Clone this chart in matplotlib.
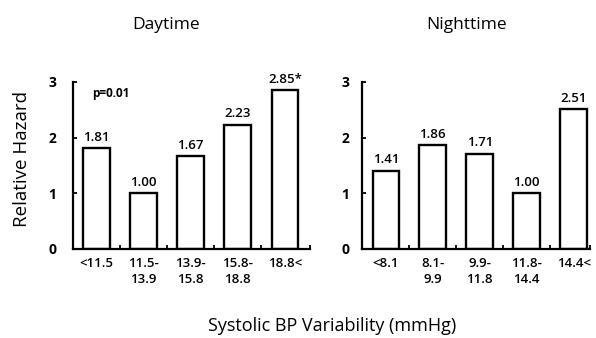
import matplotlib
matplotlib.use('Agg')
import matplotlib.pyplot as plt

DAY_LABELS = ['<11.5', '11.5-\n13.9', '13.9-\n15.8', '15.8-\n18.8', '18.8<']
DAY_VALUES = [1.81, 1.00, 1.67, 2.23, 2.85]
DAY_TEXT = ['1.81', '1.00', '1.67', '2.23', '2.85*']

NIGHT_LABELS = ['<8.1', '8.1-\n9.9', '9.9-\n11.8', '11.8-\n14.4', '14.4<']
NIGHT_VALUES = [1.41, 1.86, 1.71, 1.00, 2.51]
NIGHT_TEXT = ['1.41', '1.86', '1.71', '1.00', '2.51']

W, H = 596, 338
plt.rcParams['font.family'] = 'Open Sans'

fig = plt.figure(figsize=(W / 100, H / 100), dpi=100)


def px_axes(x0, x1, y_bottom, y_top):
    return fig.add_axes([x0 / W, 1 - y_bottom / H, (x1 - x0) / W, (y_bottom - y_top) / H])


ax1 = px_axes(73, 310, 249, 82)
ax2 = px_axes(362, 590, 249, 82)


def draw_panel(ax, labels, values, texts, xlim):
    x = list(range(len(values)))
    ax.bar(x, values, width=0.57, color='white', edgecolor='black', linewidth=1.7)
    for xi, v, t in zip(x, values, texts):
        ax.text(xi, v + 0.08, t, ha='center', va='bottom', fontsize=9.5,
                fontweight='semibold')
    ax.set_ylim(0, 3)
    ax.set_xlim(*xlim)
    ax.set_yticks([0, 1, 2, 3])
    ax.set_yticklabels(['0', '1', '2', '3'], fontsize=10, fontweight='bold')
    ax.set_xticks(x)
    ax.set_xticklabels(labels, fontsize=9.5, fontweight='semibold', linespacing=1.3)
    ax.tick_params(axis='x', length=0, pad=6)
    ax.tick_params(axis='y', direction='in', length=3, width=1.3, pad=9)
    ax.set_xticks([i + 0.5 for i in x[:-1]] + [xlim[1]], minor=True)
    ax.tick_params(axis='x', which='minor', direction='in', length=3, width=1.3)
    for s in ['top', 'right']:
        ax.spines[s].set_visible(False)
    for s in ['left', 'bottom']:
        ax.spines[s].set_linewidth(1.6)


draw_panel(ax1, DAY_LABELS, DAY_VALUES, DAY_TEXT, (-0.49, 4.53))
draw_panel(ax2, NIGHT_LABELS, NIGHT_VALUES, NIGHT_TEXT, (-0.51, 4.35))
ax1.tick_params(axis='y', pad=12)

ax1.text(-0.08, 2.79, 'p=0.01', fontsize=8.5, va='center', ha='left',
         fontweight='bold')

fig.text(166 / W, 1 - 29 / H, 'Daytime', ha='center', va='baseline', fontsize=12.5)
fig.text(467 / W, 1 - 29 / H, 'Nighttime', ha='center', va='baseline', fontsize=12.5)
fig.text(27 / W, 1 - 159 / H, 'Relative Hazard', ha='center', va='baseline',
         rotation=90, fontsize=13.5, rotation_mode='anchor')
fig.text(332 / W, 1 - 331 / H, 'Systolic BP Variability (mmHg)',
         ha='center', va='baseline', fontsize=13)

fig.savefig('out.png', dpi=100, facecolor='white')
